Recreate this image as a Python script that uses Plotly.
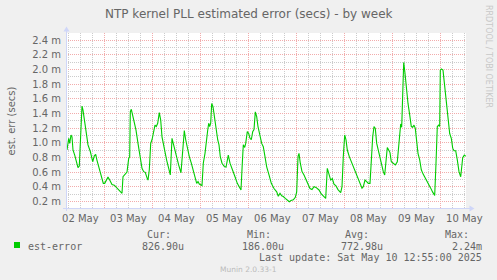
import pandas as pd
import plotly.graph_objects as go

# ---------------- data ----------------
start = pd.Timestamp("2025-05-02 00:00")
hours = [5.35, 6.2, 6.7, 7.35, 7.85, 8.35, 9.2, 10.35, 10.85, 11.5, 12.2, 12.85, 13.35, 14.0,
         14.85, 15.85, 17.0, 18.2, 19.0, 19.7, 20.35, 21.2, 22.0, 22.85, 23.5, 24.2, 25.0,
         25.85, 26.7, 27.85, 29.0, 30.0, 31.2, 32.35, 32.85, 33.35, 34.2, 35.35, 36.2, 36.7,
         37.0, 37.5, 38.7, 39.85, 40.85, 41.85, 42.85, 43.7, 44.5, 45.35, 45.85,
         46.5, 47.2, 47.85, 48.5, 49.35, 50.0, 50.7, 51.5, 52.2, 52.85, 54.0, 55.2, 56.2,
         57.0, 57.85, 58.5, 59.2, 60.2, 61.2, 62.35, 63.2, 64.0, 64.7, 65.5, 66.5, 67.5,
         68.5, 69.35, 70.2, 70.85, 71.5, 72.85, 73.5, 74.35, 75.0, 75.7, 76.2, 76.7, 77.2,
         77.7, 78.35, 79.0, 79.85, 80.7, 81.35, 82.0, 82.85, 83.85, 84.85, 86.0, 86.85, 88.2,
         89.35, 90.5, 91.5, 92.35, 93.0, 93.5, 94.2, 94.7, 95.5, 96.2, 96.85, 97.5, 98.2,
         98.85, 99.5, 100.2, 100.85, 101.85, 102.7, 103.5, 104.35, 105.2, 106.35, 107.5,
         108.85, 110.2, 111.0, 111.85, 112.7, 113.5, 114.5, 115.5, 116.5, 117.35, 118.5,
         119.5, 120.2, 120.85, 121.35, 122.0, 122.85, 123.85, 124.85, 125.85, 126.85, 127.85,
         128.85, 129.85, 131.35, 132.5, 133.85, 134.7, 135.5, 136.2, 137.2, 138.0, 138.85,
         139.85, 140.85, 142.2, 142.85, 143.5, 144.2, 144.85, 145.5, 146.5, 147.5, 148.5,
         149.5, 150.5, 151.5, 152.85, 153.5, 154.35, 155.2, 156.0, 156.85, 157.5, 158.2,
         158.85, 159.5, 160.2, 161.0, 161.85, 162.7, 163.5, 164.2, 164.85, 165.5, 166.2,
         166.85, 167.5, 168.5, 169.5, 170.5, 171.2, 171.85, 172.2, 172.7, 173.2, 173.7,
         174.35, 175.0, 175.85, 176.7, 177.5, 178.2, 178.85, 179.5, 180.2, 180.85, 181.7,
         182.5, 183.35, 184.2, 185.2, 186.2, 187.2, 188.2, 189.2, 189.85, 190.5, 191.2,
         191.7, 192.0, 192.5, 193.35, 194.2, 195.0, 195.85, 196.7, 197.5, 198.2, 198.85,
         199.7, 200.5, 201.35, 202.2, 202.7, 203.2, 204.0, 204.7]
est_error_ms = [0.90, 1.06, 0.99, 1.105, 1.08, 0.90, 0.83, 0.695, 0.66, 0.68, 1.17, 1.50, 1.445,
                1.31, 1.13, 0.97, 0.88, 0.74, 0.82, 0.84, 0.76, 0.67, 0.58, 0.49, 0.445, 0.445,
                0.49, 0.53, 0.49, 0.43, 0.42, 0.39, 0.355, 0.32, 0.31, 0.535, 0.57, 0.60, 0.785,
                0.81, 1.42, 1.455, 1.31, 1.17, 0.99, 0.83, 0.65, 0.605, 0.595, 0.52, 0.49,
                0.63, 0.99, 1.04, 1.13, 1.24, 1.22, 1.265, 1.41, 1.31, 1.08, 0.90, 0.76, 0.65,
                0.56, 1.06, 0.99, 0.88, 0.785, 0.695, 0.59, 0.945, 1.165, 1.04, 0.925, 0.81,
                0.72, 0.63, 0.535, 0.445, 0.47, 0.435, 0.415, 0.72, 0.855, 1.06, 1.17, 1.265,
                1.22, 1.265, 1.535, 1.49, 1.345, 1.17, 1.04, 0.97, 0.81, 0.72, 0.68, 0.665,
                0.83, 0.72, 0.63, 0.535, 0.445, 0.39, 0.355, 0.72, 0.97, 0.935, 0.99, 1.15,
                1.125, 1.06, 1.04, 1.15, 1.18, 1.42, 1.355, 1.22, 1.08, 0.99, 0.945, 0.81, 0.67,
                0.56, 0.445, 0.375, 0.33, 0.27, 0.31, 0.275, 0.265, 0.24, 0.22, 0.195, 0.21,
                0.22, 0.255, 0.33, 0.81, 0.855, 0.72, 0.605, 0.56, 0.49, 0.42, 0.375, 0.36,
                0.40, 0.39, 0.355, 0.30, 0.27, 0.24, 0.65, 0.58, 0.49, 0.51, 0.435, 0.41, 0.36,
                0.32, 0.40, 0.81, 1.105, 1.04, 0.90, 0.81, 0.74, 0.67, 0.605, 0.535, 0.47, 0.38,
                0.40, 0.49, 0.47, 0.445, 0.445, 0.81, 1.08, 1.22, 1.195, 0.99, 0.90, 0.785,
                0.67, 0.605, 0.56, 0.72, 0.935, 0.90, 0.865, 0.74, 0.72, 0.695, 0.74, 0.99,
                1.24, 1.255, 1.21, 1.63, 2.095, 1.945, 1.74, 1.535, 1.38, 1.22, 1.21, 1.24,
                1.195, 0.99, 0.855, 0.765, 0.63, 0.575, 0.535, 0.49, 0.435, 0.38, 0.325, 0.28,
                0.72, 1.22, 1.24, 1.22, 1.99, 2.005, 1.99, 1.765, 1.58, 1.40, 1.125, 1.06,
                0.925, 0.89, 0.89, 0.765, 0.605, 0.535, 0.74, 0.795, 0.83, 0.815]

series_name = "est-error"
stat_labels = ["Cur:", "Min:", "Avg:", "Max:"]
stat_values = ["826.90u", "186.00u", "772.98u", "2.24m"]
title = "NTP kernel PLL estimated error (secs) - by week"
y_title = "est. err (secs)"
last_update = "Last update: Sat May 10 12:55:00 2025"
x_range_hours = [4.85, 204.85]
y_range = [0.109, 2.496]

# ---------------- styling ----------------
W, H = 497, 280
L, R, T, B = 66, 466, 33, 208
GREEN = "#00CC00"
FONT_C = "#666666"
AXIS_C = "#CFD6F8"
MAJOR_C = "#F2ACAC"
MINOR_C = "#CCCCCC"
DOT = "1px,1px"


def px(x):
    return (x - L) / (R - L)


def py(y):
    return (B - y) / (B - T)


times = [start + pd.Timedelta(hours=h) for h in hours]

fig = go.Figure()
fig.add_trace(go.Scatter(x=times, y=est_error_ms, mode="lines",
                         line=dict(color=GREEN, width=1.1), showlegend=False,
                         hoverinfo="skip"))

fig.update_layout(
    width=W, height=H,
    margin=dict(l=L, r=W - R, t=T, b=H - B, pad=0),
    paper_bgcolor="#F0F0F0", plot_bgcolor="#FFFFFF",
    font=dict(family="DejaVu Sans", size=10, color=FONT_C),
    xaxis=dict(
        type="date",
        range=[start + pd.Timedelta(hours=x_range_hours[0]),
               start + pd.Timedelta(hours=x_range_hours[1])],
        tick0="2025-05-02", dtick=86400000, tickformat="%d %b",
        ticklabelmode="period", ticks="", showline=False, zeroline=False,
        showgrid=True, gridcolor=MAJOR_C, griddash=DOT, gridwidth=1,
        minor=dict(dtick=6 * 3600000, showgrid=True, gridcolor=MINOR_C,
                   griddash=DOT, gridwidth=1),
        tickfont=dict(family="DejaVu Sans", size=10, color=FONT_C),
        ticklabelstandoff=3,
        fixedrange=True,
    ),
    yaxis=dict(
        range=y_range, tick0=0, dtick=0.2, tickformat=".1f", ticksuffix=" m",
        ticks="", showline=False, zeroline=False,
        showgrid=True, gridcolor=MAJOR_C, griddash=DOT, gridwidth=1,
        minor=dict(dtick=0.1, showgrid=True, gridcolor=MINOR_C,
                   griddash=DOT, gridwidth=1),
        tickfont=dict(family="DejaVu Sans", size=10, color=FONT_C),
        ticklabelstandoff=4,
        fixedrange=True,
    ),
)

shapes = [
    dict(type="line", xref="paper", yref="paper", x0=px(63), x1=px(471),
         y0=py(208.5), y1=py(208.5), line=dict(color=AXIS_C, width=1)),
    dict(type="path", xref="paper", yref="paper",
         path=f"M {px(469.5)} {py(205.5)} L {px(474.5)} {py(208.5)} L {px(469.5)} {py(211.5)} Z",
         fillcolor=AXIS_C, line=dict(width=0)),
    dict(type="line", xref="paper", yref="paper", x0=px(66.5), x1=px(66.5),
         y0=py(211), y1=py(30), line=dict(color=AXIS_C, width=1)),
    dict(type="path", xref="paper", yref="paper",
         path=f"M {px(63.5)} {py(31.5)} L {px(66.5)} {py(26.5)} L {px(69.5)} {py(31.5)} Z",
         fillcolor=AXIS_C, line=dict(width=0)),
    dict(type="rect", xref="paper", yref="paper", x0=px(14), x1=px(20),
         y0=py(248), y1=py(242), fillcolor=GREEN, line=dict(width=0)),
]
fig.update_layout(shapes=shapes)

MONO = "DejaVu Sans Mono"


def ann(text, x, y, xanchor="center", size=10, color=FONT_C, family="DejaVu Sans", angle=0):
    return dict(text=text, x=px(x), y=py(y), xref="paper", yref="paper",
                xanchor=xanchor, yanchor="middle", showarrow=False, borderpad=0,
                textangle=angle, font=dict(family=family, size=size, color=color))


annotations = [
    ann(title, 248.7, 13.5, size=12),
    ann(y_title, 11, 120.5, angle=-90),
    ann("RRDTOOL / TOBI OETIKER", 488.5, 56.5, size=8, color="#C8C8C8", angle=90),
    ann(series_name, 27, 246, xanchor="left", family=MONO),
    ann(last_update, 482.7, 257.5, xanchor="right", family=MONO),
    ann("Munin 2.0.33-1", 248.5, 269.5, size=7.5, color="#BBBBBB"),
]
label_right = [171.7, 271.7, 370.0, 470.0]
value_right = [185.0, 285.0, 384.3, 482.7]
for lab, val, lr, vr in zip(stat_labels, stat_values, label_right, value_right):
    annotations.append(ann(lab, lr, 234, xanchor="right", family=MONO))
    annotations.append(ann(val, vr, 246, xanchor="right", family=MONO))
fig.update_layout(annotations=annotations)

fig.write_html("out.html")
